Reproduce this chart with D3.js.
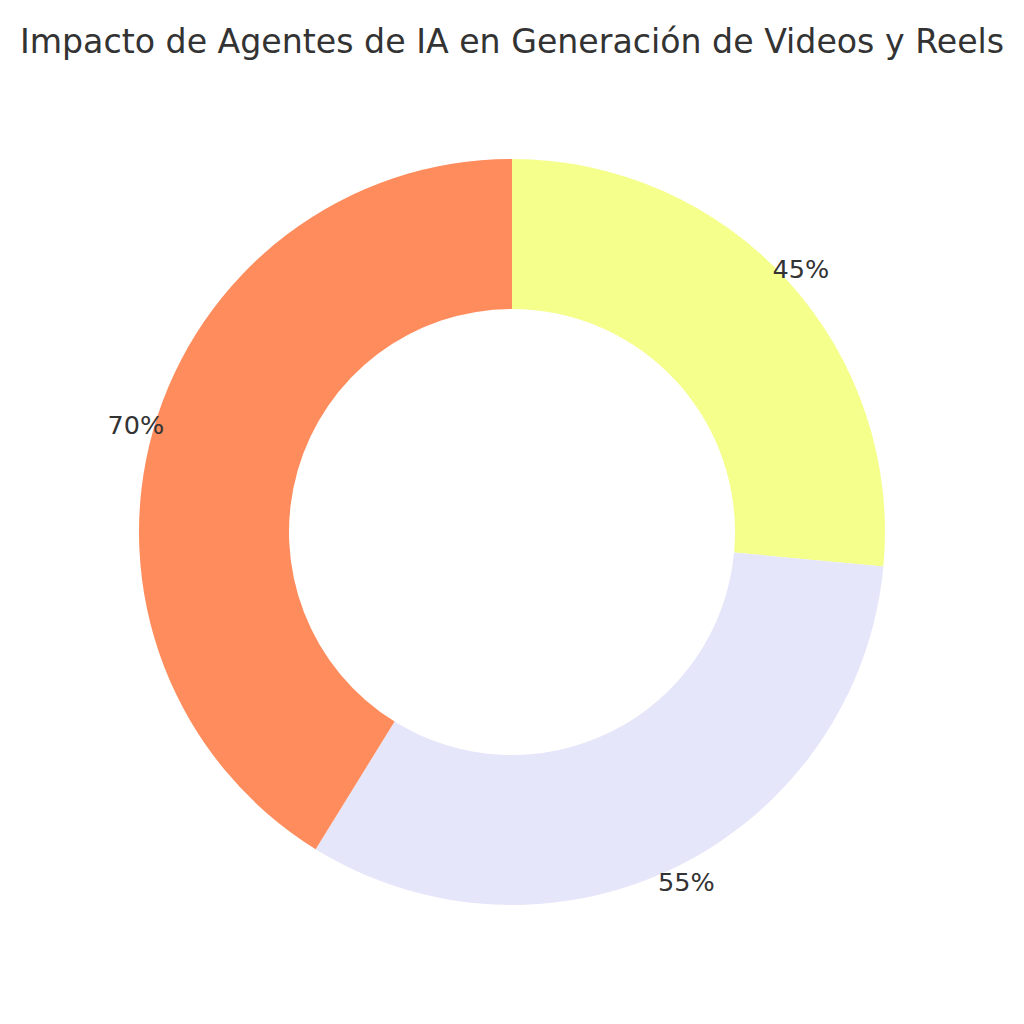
<!DOCTYPE html>
<html>
  <head>
    <meta charset="utf-8">
    <script src="https://d3js.org/d3.v7.min.js"></script>
    <title>Impacto de Agentes de IA</title>
    <style>
      body { margin: 0; background: #fff; }
    </style>
  </head>
  <body>
    <div id="plot"></div>
    <script>
    // data
    const categories = ["A", "B", "C"];
    const values = [45, 55, 70];
    const labels = ["45%", "55%", "70%"];
    const colors = ["#f5ff8c", "#e6e6fa", "#ff8c5c"];

    const width = 1024, height = 1024;
    const cx = 512, cy = 532;
    const outerR = 373, innerR = 223, labelR = 391;

    const svg = d3.select("#plot")
      .append("svg")
        .attr("width", width)
        .attr("height", height);

    // title
    svg.append("text")
      .attr("x", width / 2)
      .attr("y", 53)
      .attr("text-anchor", "middle")
      .style("font-family", "DejaVu Sans")
      .style("font-size", "33.2px")
      .style("fill", "#333333")
      .text("Impacto de Agentes de IA en Generación de Videos y Reels");

    const pie = d3.pie().sort(null).value(function(d) { return d; });
    const arcs = pie(values);

    const arc = d3.arc().innerRadius(innerR).outerRadius(outerR);
    const labelArc = d3.arc().innerRadius(labelR).outerRadius(labelR);

    const g = svg.append("g")
      .attr("transform", "translate(" + cx + "," + cy + ")");

    g.selectAll("path")
      .data(arcs)
      .enter()
      .append("path")
        .attr("d", arc)
        .attr("fill", function(d, i) { return colors[i]; });

    g.selectAll("text.lbl")
      .data(arcs)
      .enter()
      .append("text")
        .attr("class", "lbl")
        .attr("transform", function(d) { return "translate(" + labelArc.centroid(d) + ")"; })
        .attr("text-anchor", "middle")
        .attr("dy", "0.35em")
        .style("font-family", "DejaVu Sans")
        .style("font-size", "25.5px")
        .style("fill", "#333333")
        .text(function(d, i) { return labels[i]; });
    </script>
  </body>
</html>
